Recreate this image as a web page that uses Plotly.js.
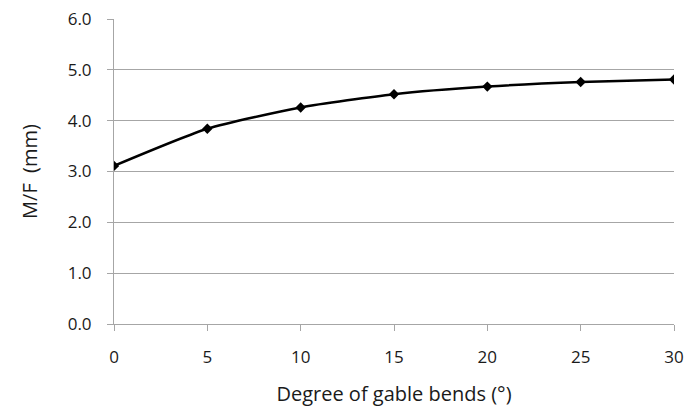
<!DOCTYPE html>
<html>
<head>
<meta charset="utf-8">
<script src="https://cdn.plot.ly/plotly-3.0.1.min.js"></script>
<style>html,body{margin:0;padding:0;background:#fff;}#chart{width:684px;height:407px;}</style>
</head>
<body>
<div id="chart"></div>
<script>
const bendDegrees = [0, 5, 10, 15, 20, 25, 30];
const mfValues = [3.11, 3.84, 4.26, 4.52, 4.67, 4.76, 4.81];
const yTickVals = [0, 1, 2, 3, 4, 5, 6];
const yTickText = ["0.0", "1.0", "2.0", "3.0", "4.0", "5.0", "6.0"];
const xTickVals = [0, 5, 10, 15, 20, 25, 30];

const font = "Open Sans, Liberation Sans, sans-serif";
const trace = {
  x: bendDegrees,
  y: mfValues,
  type: "scatter",
  mode: "lines+markers",
  line: {color: "#000", width: 2.5, shape: "spline", smoothing: 0.6},
  marker: {symbol: "diamond", size: 8, color: "#000"},
  showlegend: false,
  hoverinfo: "skip"
};
const layout = {
  width: 684, height: 407,
  margin: {l: 114, r: 10, t: 19, b: 83},
  paper_bgcolor: "#fff", plot_bgcolor: "#fff",
  font: {family: font, size: 17, color: "#1a1a1a"},
  xaxis: {
    range: [0, 30], tickvals: xTickVals,
    showgrid: false, zeroline: false,
    showline: true, linecolor: "#a6a6a6", linewidth: 1,
    ticks: "outside", ticklen: 6, tickcolor: "#a6a6a6",
    ticklabelstandoff: 12,
    tickfont: {family: font, size: 17, color: "#1a1a1a"},
    title: {text: "Degree of gable bends (°)", font: {family: font, size: 20, color: "#1a1a1a"}, standoff: 23}
  },
  yaxis: {
    range: [0, 6], tickvals: yTickVals, ticktext: yTickText,
    showgrid: true, gridcolor: "#a6a6a6", gridwidth: 1,
    zeroline: false,
    showline: true, linecolor: "#a6a6a6", linewidth: 1,
    ticks: "outside", ticklen: 6, tickcolor: "#a6a6a6",
    ticklabelstandoff: 12,
    tickfont: {family: font, size: 17, color: "#1a1a1a"},
    title: {text: "M/F  (mm)", font: {family: font, size: 20, color: "#1a1a1a"}, standoff: 24}
  }
};
Plotly.newPlot("chart", [trace], layout, {displayModeBar: false, staticPlot: true});
</script>
</body>
</html>
